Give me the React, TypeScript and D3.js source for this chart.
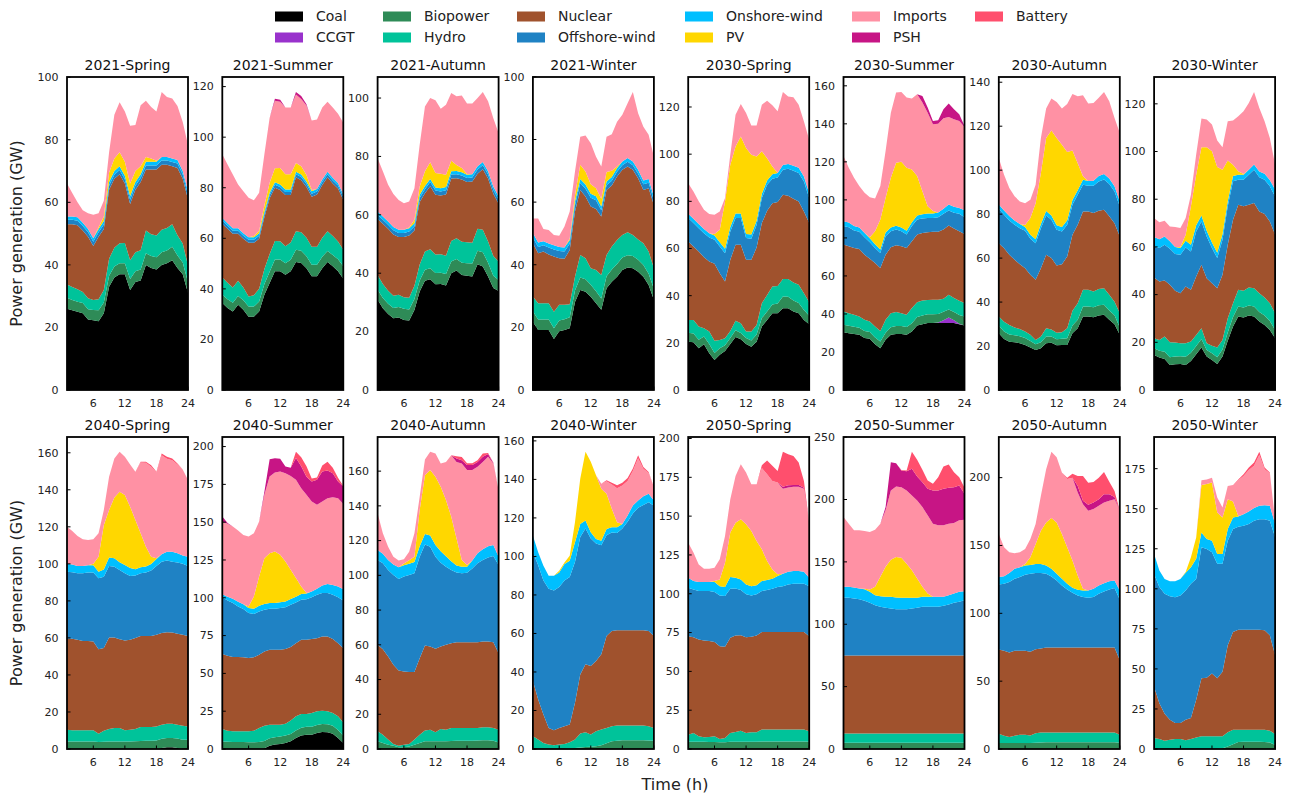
import React from "react";
import * as d3 from "d3";

// Hour of day (x axis)
const HOURS = [1, 2, 3, 4, 5, 6, 7, 8, 9, 10, 11, 12, 13, 14, 15, 16, 17, 18, 19, 20, 21, 22, 23, 24];
const X_TICKS = [6, 12, 18, 24];

// Stack order, bottom to top
const KEYS = ["coal", "ccgt", "bio", "hydro", "nuclear", "offshore", "onshore", "pv", "imports", "psh", "battery"];
const LABELS = ["Coal", "CCGT", "Biopower", "Hydro", "Nuclear", "Offshore-wind", "Onshore-wind", "PV", "Imports", "PSH", "Battery"];
const COLORS = ["#000000", "#9932CC", "#2E8B57", "#00C39A", "#A0522D", "#1F82C4", "#00BFFF", "#FFD700", "#FF91A4", "#C71585", "#FF4F6D"];

const Z = [0, 0, 0, 0, 0, 0, 0, 0, 0, 0, 0, 0, 0, 0, 0, 0, 0, 0, 0, 0, 0, 0, 0, 0];

// Hourly generation by technology (GW)
const gen2021Spring = {
  coal: [26, 25.5, 25, 24.5, 22.5, 22.3, 22, 24.5, 33, 36, 37, 37, 32, 34.5, 35, 40, 39, 38.5, 40, 40.5, 41.5, 39, 37, 31],
  ccgt: Z,
  bio: [3.5, 3.3, 3.2, 3.3, 3.3, 3.3, 3.5, 3.5, 3.5, 3.5, 3.5, 3.5, 3.5, 3.5, 3.5, 3.7, 3.8, 3.9, 4, 4.1, 4.3, 4, 3.8, 3.4],
  hydro: [4.2, 4.1, 4, 3.5, 3.5, 3.2, 3.5, 4, 5.5, 6, 6.4, 6.5, 6, 6, 6.2, 7.3, 7, 7, 7.2, 7.2, 7.2, 6.5, 6, 5.4],
  nuclear: [19.3, 20.1, 20.5, 19.7, 19.7, 17.2, 20, 19.5, 22, 22, 22.1, 19, 18, 20, 21.8, 19.5, 20.7, 21.1, 20.8, 20.2, 18.5, 21.5, 20.7, 21.2],
  offshore: [1.4, 1.4, 1.4, 1.4, 1.4, 1.4, 1.4, 1.4, 1.3, 1.3, 1.3, 1.3, 1.3, 1.3, 1.3, 1.3, 1.3, 1.3, 1.4, 1.4, 1.4, 1.4, 1.4, 1.4],
  onshore: [1.1, 1.1, 1.1, 1.1, 1.1, 1.1, 1.1, 1.1, 1.2, 1.2, 1.2, 1.2, 1.2, 1.2, 1.2, 1.2, 1.2, 1.2, 1.1, 1.1, 1.1, 1.1, 1.1, 1.1],
  pv: [0, 0, 0, 0, 0, 0, 0.5, 1.5, 3, 4, 4.5, 4.5, 4, 3.5, 2.5, 1.5, 1, 0.3, 0, 0, 0, 0, 0, 0],
  imports: [10.5, 7.5, 4.8, 4, 5, 7.5, 4.5, 5, 6.5, 14, 16, 16, 18.5, 14.7, 19.5, 18, 16.5, 15.7, 20.8, 19.2, 19.2, 17.3, 15.7, 14.8],
  psh: Z,
  battery: Z,
};

const gen2021Summer = {
  coal: [34.4, 32.4, 31, 33.7, 31.7, 29, 29, 31, 37.7, 42.3, 47, 47, 45.6, 47, 50.6, 50.2, 48.2, 45, 45, 48.2, 50.6, 48.9, 47, 44],
  ccgt: Z,
  bio: [3.3, 3.5, 3.5, 3.5, 3.8, 4, 4, 4, 4.2, 4.5, 4.6, 4.6, 4.5, 4.5, 4.9, 4.9, 4.7, 4.5, 4.5, 4.5, 4.4, 4.5, 4.7, 4.9],
  hydro: [6.8, 6.5, 6, 6, 5, 4, 4.5, 5, 6, 7, 7.3, 7.2, 6.8, 6.8, 7.3, 7.3, 7.3, 7.2, 7.2, 7.5, 7.8, 7.5, 7, 6.6],
  nuclear: [21.3, 21.4, 21.3, 18.6, 19.3, 21.2, 20.7, 19.8, 20.4, 22, 21.1, 20.3, 20.2, 18.8, 21.3, 20.6, 20.1, 19.7, 20.6, 20.9, 21.3, 20.8, 21, 19.6],
  offshore: [1.2, 1.2, 1.2, 1.2, 1.2, 1.2, 1.2, 1.2, 1.2, 1.2, 1.2, 1.2, 1.2, 1.2, 1.2, 1.2, 1.2, 1.2, 1.2, 1.2, 1.2, 1.2, 1.2, 1.2],
  onshore: [1, 1, 1, 1, 1, 1, 1, 1, 1, 1, 1, 1, 1, 1, 1, 1, 1, 1, 1, 1, 1, 1, 1, 1],
  pv: [0, 0, 0, 0, 0, 0, 0.5, 1, 2.5, 4, 5.5, 6.5, 6, 6, 3.5, 3.3, 2.5, 0.5, 0, 0, 0, 0, 0, 0],
  imports: [25.2, 23.2, 21.2, 17.3, 16.6, 15.6, 14.1, 15, 20.2, 25.7, 26.7, 26.2, 26.4, 26.4, 27.1, 26.6, 27.5, 27.5, 27.5, 28.4, 27.7, 27.8, 27.4, 28.4],
  psh: [0, 0, 0, 0, 0, 0, 0, 0, 0, 0, 0.8, 0.8, 0, 0, 1, 1.2, 0.5, 0, 0, 0, 0, 0, 0, 0],
  battery: Z,
};

const gen2021Autumn = {
  coal: [30.9, 28, 26, 24.6, 24.8, 24, 23.8, 27.4, 33.7, 37.4, 37.9, 36.2, 36.3, 35.8, 40, 40.9, 39.4, 39.1, 38.9, 43.1, 42.3, 38.9, 34.9, 33.9],
  ccgt: Z,
  bio: [3.4, 3.5, 3.5, 3.5, 3.6, 3.8, 3.8, 3.8, 3.8, 3.8, 3.8, 3.9, 3.9, 3.9, 4, 4, 4.2, 4.3, 4.4, 4.6, 4.9, 4.7, 4.2, 3.8],
  hydro: [5.1, 4.8, 4.5, 4.2, 4.2, 4, 4, 4.5, 5.5, 6.2, 6.5, 6.3, 6.3, 6.3, 7, 7.1, 7.2, 7.2, 7.1, 7.5, 7.7, 7.3, 6.8, 6.3],
  nuclear: [19.2, 20.6, 21.2, 21, 19.8, 20.6, 21.3, 18.9, 21.4, 20, 21.6, 20.5, 20.1, 21, 21.4, 20.5, 21.3, 20.6, 21, 18.9, 20.7, 21.5, 21.3, 19.8],
  offshore: [1.4, 1.4, 1.4, 1.4, 1.4, 1.4, 1.4, 1.4, 1.4, 1.4, 1.4, 1.4, 1.4, 1.4, 1.4, 1.4, 1.4, 1.4, 1.4, 1.4, 1.4, 1.4, 1.4, 1.4],
  onshore: [1.1, 1.1, 1.1, 1.1, 1.1, 1.1, 1.1, 1.1, 1.1, 1.1, 1.1, 1.1, 1.1, 1.1, 1.1, 1.1, 1.1, 1.1, 1.1, 1.1, 1.1, 1.1, 1.1, 1.1],
  pv: [0, 0, 0, 0, 0, 0, 0.3, 1.2, 2.8, 5, 5.7, 4.9, 5, 4.2, 3.6, 2.1, 1.4, 0.3, 0, 0, 0, 0, 0, 0],
  imports: [18.3, 15.5, 12.6, 11.3, 10.2, 9.1, 8.9, 10.8, 14.3, 22.2, 22, 24.9, 22.2, 24, 23.2, 23.5, 24.9, 24.1, 24.2, 23.4, 24, 24, 23.4, 21.7],
  psh: Z,
  battery: Z,
};

const gen2021Winter = {
  coal: [21.8, 19.2, 19.2, 19.2, 16.3, 18.8, 19.2, 19.7, 28.1, 31.9, 31.4, 29.8, 27.7, 25.6, 32.5, 34.6, 36.2, 38.3, 39.1, 38.9, 37.8, 36.2, 33.5, 28.8],
  ccgt: Z,
  bio: [3.3, 3.3, 3.3, 3.3, 3.4, 3.4, 3.4, 3.5, 3.7, 4, 4, 3.8, 3.8, 3.6, 3.8, 3.9, 4, 4, 3.9, 3.9, 3.8, 3.7, 3.6, 3.5],
  hydro: [4.7, 5.2, 5.2, 5.2, 5.3, 5, 4.6, 4.2, 4.4, 7.2, 6.7, 5.3, 6.8, 7.5, 6.8, 7.3, 7.7, 7.2, 7.4, 6.7, 6.5, 7, 7.1, 6.6],
  nuclear: [17.1, 16, 16.5, 15.6, 17.6, 14.9, 14.7, 17.3, 20.8, 20.8, 19.7, 19.7, 19.5, 18.7, 20.8, 19.5, 20.3, 20.8, 21, 20.8, 19.5, 17, 20.2, 20.2],
  offshore: [1.8, 2, 2, 2.2, 2.3, 2.3, 2.3, 2, 2, 2.2, 2.5, 2.8, 2.8, 2, 1.5, 1.5, 1.5, 1.5, 1.5, 1.5, 1.5, 1.8, 1.8, 1.5],
  onshore: [1.4, 1.4, 1.3, 1.3, 1.3, 1.3, 1.3, 1.2, 1.2, 1.3, 1.3, 1.3, 1.3, 1.2, 1.2, 1.2, 1.2, 1.2, 1.2, 1.2, 1.2, 1.2, 1.2, 1.2],
  pv: [0, 0, 0, 0, 0, 0, 0, 0.5, 2, 4.5, 4.2, 3, 2.5, 2.5, 3, 2, 0.5, 0, 0, 0, 0, 0, 0, 0],
  imports: [4.7, 7.7, 3.9, 4.3, 3.3, 3.6, 6.7, 8.6, 7.6, 9, 11.5, 13.1, 10.1, 10.3, 11.3, 11.7, 14.3, 14.9, 17.5, 22.2, 18.1, 17.2, 14.1, 12.7],
  psh: Z,
  battery: Z,
};

const gen2030Spring = {
  coal: [20.5, 20.2, 17.7, 19.4, 15.6, 12.7, 14.9, 16.5, 19.5, 22.5, 21.5, 19.5, 18.3, 20.5, 26.9, 29.7, 32.5, 32.5, 34.7, 34.7, 33.3, 32.5, 29.7, 27.9],
  ccgt: Z,
  bio: [3.8, 3.8, 3.6, 3.3, 3.9, 3, 2.8, 2.5, 2.5, 2.8, 2.7, 2.6, 2.7, 3, 3.6, 3.6, 3.8, 4.2, 4.9, 4.8, 4.6, 4.4, 4.2, 3.6],
  hydro: [5.4, 5.7, 5.6, 3.5, 5.3, 5.2, 3.5, 2.9, 3, 4.1, 4.1, 2.7, 3.8, 4.1, 6.3, 7, 7.6, 7.4, 7.5, 7.6, 7.7, 7.7, 7.1, 5.7],
  nuclear: [33.3, 31.1, 31.8, 30.1, 29.7, 32.6, 28.3, 24.1, 30.2, 32.2, 33.3, 30.4, 30.4, 32.8, 34, 35.7, 35.3, 35.6, 35.7, 35.3, 35.5, 35.3, 34.7, 33.6],
  offshore: [9.9, 10, 9.9, 10.2, 10.2, 10.2, 11.3, 12, 12, 11.3, 11.3, 9.2, 8.9, 9.6, 10.6, 11, 10.4, 10.4, 10.6, 11.4, 11.9, 12.1, 12.7, 10.6],
  onshore: [1.8, 1.8, 1.8, 1.8, 1.8, 1.8, 1.9, 1.9, 1.9, 1.9, 1.9, 1.8, 1.8, 1.8, 1.8, 1.8, 1.9, 1.9, 2, 2, 2.1, 2.2, 2.1, 2],
  pv: [0, 0, 0, 0, 0, 0.6, 5.2, 20, 26.4, 28.5, 32.7, 36.4, 33.9, 27.2, 18, 9.5, 3.3, 0, 0, 0, 0, 0, 0, 0],
  imports: [13, 11.6, 9.6, 8.1, 8.1, 8.2, 7.8, 1.5, 4.3, 13.4, 13.8, 14.9, 12.4, 13.2, 19.8, 24.4, 25.9, 26.2, 31, 28.7, 29, 26.8, 23.4, 22.7],
  psh: Z,
  battery: Z,
};

const gen2030Summer = {
  coal: [30.4, 29.9, 29.4, 29, 27.3, 26.9, 24.1, 22, 26.4, 29, 29.5, 29.5, 29, 30.8, 33.9, 34.6, 35.2, 35.2, 35.2, 35.2, 35.2, 35.2, 34.6, 33.9],
  ccgt: [0, 0, 0, 0, 0, 0, 0, 0, 0, 0, 0, 0, 0, 0, 0, 0, 0, 0, 0.3, 1.5, 3, 1.5, 0.3, 0],
  bio: [3.9, 3.9, 3.9, 3.8, 3.7, 3.6, 3.5, 3.5, 3.7, 4, 4.1, 4.1, 4.1, 4.3, 4.5, 4.6, 4.7, 4.7, 4.5, 4.4, 4.2, 4.3, 4.6, 4.8],
  hydro: [7, 6.6, 6.3, 5.9, 5.9, 5.5, 5.8, 5.6, 6.8, 7.4, 7.4, 6.8, 6.5, 8, 7.8, 7.9, 7.4, 7.6, 7.5, 6.9, 7.7, 7.4, 7.4, 7],
  nuclear: [35.2, 35.2, 35.1, 35.5, 34.3, 33.1, 33.4, 33.1, 34.3, 34.7, 35.1, 35.2, 35.1, 35.1, 35.6, 35.5, 35.7, 35.7, 35.7, 36.4, 36.4, 36.5, 36.6, 36.4],
  offshore: [9.7, 10, 9.2, 9, 9.2, 8.6, 7.9, 7.9, 9.7, 8.4, 8.3, 7.9, 7.1, 8, 7.9, 7.6, 7.5, 7.3, 7.7, 8.3, 7.9, 8.3, 9.2, 8.8],
  onshore: [2.6, 2.5, 2.4, 2.3, 2.2, 2.1, 2, 1.8, 2, 2, 2, 2, 2, 2.1, 2.1, 2.2, 2.3, 2.4, 2.5, 2.7, 3.2, 3.2, 3, 3.6],
  pv: [0, 0, 0, 0, 0, 0.5, 6.8, 15.8, 18.2, 26.1, 33.2, 34.6, 33.1, 27.7, 20.7, 12.2, 3.9, 1.2, 0, 0, 0, 0, 0, 0],
  imports: [34.3, 28.8, 25.3, 21.8, 21.1, 21.1, 17.2, 17.6, 24.6, 34.3, 36.9, 36.7, 36.9, 37.3, 43.1, 46.6, 49.2, 45.7, 46.7, 47.6, 46, 46, 45.8, 43.9],
  psh: [0, 0, 0, 0, 0, 0, 0, 0, 0, 0, 0, 0, 0, 0, 0, 3.5, 2.7, 1.7, 1.8, 4.7, 7.1, 5.3, 3.6, 0.5],
  battery: Z,
};

const gen2030Autumn = {
  coal: [25.8, 23.2, 22, 21.7, 21.3, 20.5, 19.3, 18.2, 19, 21.3, 21.5, 20.3, 20.5, 20.5, 25.8, 28.1, 33.4, 33.4, 33.1, 33.9, 34.2, 31.9, 29.9, 25.1],
  ccgt: Z,
  bio: [3.5, 3.4, 3.3, 3.2, 3.2, 3.1, 3, 2.6, 2.7, 3, 2.8, 2.8, 2.8, 3, 3.5, 3.8, 4.6, 4.6, 4.5, 4.6, 4.6, 4.3, 4.1, 3.3],
  hydro: [4.1, 4.5, 4.3, 3.5, 3.3, 3, 2.8, 2, 2.6, 3.8, 3.2, 2.9, 3, 4.6, 6.7, 7.6, 7.6, 7.6, 7.2, 7.5, 7.5, 7.1, 6.2, 6.5],
  nuclear: [33.4, 33.4, 31.9, 30.8, 29.4, 28.8, 27.3, 27.3, 31.1, 33.4, 32.5, 30.6, 30.9, 32.6, 34.6, 35.7, 35.6, 35.6, 35.7, 35.5, 35.7, 35.7, 35.7, 34.9],
  offshore: [15.6, 15.2, 15.6, 16, 16.4, 17, 16.4, 16.7, 18.2, 17.9, 17.4, 16.3, 14.9, 14.5, 13.7, 13.6, 12.2, 11.7, 12.4, 13.4, 13.7, 14.7, 14.4, 13.7],
  onshore: [2, 2, 2, 1.9, 1.9, 1.8, 1.8, 1.8, 1.9, 2, 2, 2, 2, 2, 2.1, 2.1, 2.2, 2.2, 2.3, 2.4, 2.5, 2.5, 2.4, 2.2],
  pv: [0, 0, 0, 0, 0, 0.8, 7.6, 16.4, 23.2, 33.2, 38.6, 39.7, 37.5, 31.1, 22.5, 12.3, 1.6, 0, 0, 0, 0, 0, 0, 0],
  imports: [21.1, 16.2, 12.8, 11, 10.3, 10, 8.3, 8.4, 15.9, 13.4, 14.6, 16.4, 16.4, 21.8, 25.8, 30.4, 36.9, 35.2, 35.4, 35.6, 37.4, 35.1, 31, 31.2],
  psh: Z,
  battery: Z,
};

const gen2030Winter = {
  coal: [14.7, 13.6, 13, 10.5, 10.8, 10.9, 10.5, 12.2, 15, 17.8, 14, 12.6, 10.9, 14, 20.6, 26.6, 30.8, 30.4, 31.2, 30.8, 28.7, 27.3, 25.2, 21.7],
  ccgt: Z,
  bio: [2.8, 2.9, 3, 3.2, 3.2, 3.3, 3.4, 3.4, 3.5, 3.6, 2.8, 2.8, 2.8, 3, 3.5, 4, 4.2, 4.2, 4.2, 4.2, 4, 3.9, 3.7, 3.5],
  hydro: [4.2, 4.5, 6.4, 6.3, 5.9, 5.4, 5.7, 4.7, 4.6, 4.5, 2.8, 3.2, 4.1, 4, 6, 5.8, 7, 7, 7.6, 7.7, 7.9, 7.6, 7.5, 7],
  nuclear: [25.5, 24.5, 23.5, 24.1, 21.7, 21, 23.8, 21.7, 24.5, 26.6, 27.3, 26.2, 24.9, 27.3, 30.8, 35, 35.7, 35.4, 34.7, 35.7, 34.3, 35, 34.3, 32.9],
  offshore: [13, 14, 15, 15.1, 15.4, 16.1, 16.4, 16.1, 18.9, 18.2, 17.5, 14.7, 12.6, 14.7, 16.1, 16.1, 10.5, 11.2, 12.6, 14, 14.3, 14.4, 14.7, 16.1],
  onshore: [4, 3.7, 3.5, 3.2, 3, 2.8, 2.8, 2.8, 2.6, 2.5, 2.4, 2.4, 2.3, 2.3, 2.2, 2.2, 2.1, 2.1, 2.1, 2.2, 2.4, 2.5, 2.7, 2.8],
  pv: [0, 0, 0, 0, 0, 0.5, 2.5, 16.1, 21.2, 28.6, 35, 38.2, 35.9, 27.1, 17, 4.8, 1.4, 0.3, 0, 0, 0, 0, 0, 0],
  imports: [7.9, 7.1, 6.6, 6.2, 8.3, 7.9, 7, 4.9, 8.4, 12, 11.6, 11.2, 11.1, 9.4, 16.5, 18.5, 23.1, 26.3, 28, 30.4, 26.7, 22, 17.6, 10.5],
  psh: Z,
  battery: Z,
};

const gen2040Spring = {
  coal: [0, 0, 0, 0, 0, 0, 0, 0, 0, 0, 0, 0, 0, 0, 0, 0, 0, 0, 0.5, 1, 1, 0.5, 0, 0],
  ccgt: Z,
  bio: [4.1, 4, 4, 4, 4, 4, 3.8, 3.9, 4, 4, 4, 4, 4, 4.2, 4.3, 4.4, 4.5, 4.6, 5, 5, 5, 5.2, 5, 5],
  hydro: [6.3, 6.1, 6.1, 6.1, 6.1, 6.1, 4.5, 6, 6.8, 7.3, 7.3, 6.1, 6.4, 6.6, 7.6, 7.5, 7.4, 7.6, 7.6, 7.7, 7.7, 7.4, 7.6, 7.2],
  nuclear: [49.1, 49.4, 48.9, 48.3, 48.3, 48, 45.6, 44.6, 49.4, 48.9, 48, 48.5, 48.6, 49.1, 49.2, 49.2, 49.2, 49.5, 49.5, 49.4, 49.2, 49.1, 49.1, 48.9],
  offshore: [36.3, 36, 35.9, 36.5, 36.9, 37.2, 38.3, 38.6, 38.7, 38.3, 37.4, 36.3, 34.5, 33.8, 33.8, 34.2, 35.3, 37.2, 38.6, 38.7, 38.3, 38.5, 38.3, 37.8],
  onshore: [4.2, 4.2, 4, 4, 4, 4, 3.6, 3.8, 4.6, 4.5, 4.2, 4.5, 4.3, 3.4, 3.3, 3.3, 3.5, 3.7, 4, 4.8, 5.4, 5, 4.5, 5],
  pv: [0, 0, 0, 0, 0, 0.7, 8.1, 24.1, 25.6, 32.9, 38.1, 37.8, 33.1, 26.6, 18.3, 10.7, 4, 0.5, 0, 0, 0, 0, 0, 0],
  imports: [20.1, 18.1, 16.2, 14.4, 13.6, 13.3, 12.6, 8.1, 18, 21, 21.5, 20.6, 22.8, 26.1, 38.3, 45.3, 48.6, 46.2, 53.5, 50.2, 49.3, 48, 46.5, 41.4],
  psh: Z,
  battery: [0, 0, 0, 0, 0, 0, 0, 0, 0, 0, 0, 0, 0, 0, 0.4, 0.6, 0.8, 0.5, 0.9, 1, 1, 0.5, 0, 0],
};

const gen2040Summer = {
  coal: [0, 0, 0, 0, 0, 0, 0, 0, 0.5, 2.2, 2.9, 3.3, 4, 5.1, 7.3, 9, 9.5, 9.5, 10.6, 11.2, 11, 10.1, 7.3, 4],
  ccgt: Z,
  bio: [5, 4.8, 4.7, 4.6, 4.6, 4.5, 4.5, 4.6, 4.8, 4.9, 4.9, 4.9, 4.9, 4.9, 5, 5.1, 5.2, 5.2, 5.2, 5.3, 5.4, 5.3, 5.2, 4.8],
  hydro: [8.2, 7.3, 7, 7.1, 7.1, 7.2, 7.6, 9.3, 10.1, 9, 8.3, 7.9, 7.8, 8.9, 9.3, 9, 8.4, 9.1, 9.1, 8.8, 8.5, 8.4, 9.1, 8.8],
  nuclear: [49.6, 49.6, 49.1, 49.1, 48.9, 48.4, 48.5, 48.4, 49.1, 49.5, 49.5, 49.5, 49.4, 48.5, 48.4, 49.1, 49.1, 48.9, 48.4, 49.1, 49.5, 48.9, 48.4, 49.1],
  offshore: [37.6, 36.5, 35.7, 33.5, 31.9, 29.8, 28.6, 28.7, 27.6, 27.1, 27.1, 27.6, 27.7, 28, 26.9, 26.5, 26.9, 27.7, 28.7, 28.7, 28.7, 29.3, 30.4, 31.5],
  onshore: [2, 2.5, 2.8, 3, 3.2, 3.3, 3.5, 3.7, 3.8, 3.8, 3.8, 3.8, 3.8, 3.8, 3.8, 3.8, 3.8, 3.8, 4, 5, 6, 6.5, 7, 7.5],
  pv: [0, 0, 0, 0, 0, 1.1, 8.2, 19.4, 30.3, 33, 34.1, 31.4, 26.4, 19.3, 12.3, 5, 0.2, 0, 0, 0, 0, 0, 0, 0],
  imports: [48, 48.2, 47.8, 47.2, 45.9, 46.2, 41.8, 36.3, 41.9, 50.7, 52.2, 55.1, 58.4, 62.1, 65, 65, 65, 59.5, 55.5, 55.6, 56.8, 58, 58.5, 56.4],
  psh: [3.3, 0.5, 0, 0, 0, 0, 0, 0, 2, 11.4, 9.5, 8.5, 4.4, 5.4, 14.5, 14.5, 11.9, 13.2, 16.5, 19.8, 18.2, 15.9, 11, 11.5],
  battery: [0, 0, 0, 0, 0, 0, 0, 0, 0, 0, 0, 0, 0, 0, 4, 6, 7, 2, 1.5, 4, 5.9, 3.6, 2.5, 0.4],
};

const gen2040Autumn = {
  coal: Z,
  ccgt: Z,
  bio: [4.4, 3.5, 2.5, 1.8, 1, 1, 1.5, 2.5, 3.5, 4.4, 4.4, 4.4, 4.4, 4.5, 4.6, 4.7, 4.8, 4.8, 4.8, 4.9, 5, 5, 4.8, 3.8],
  hydro: [5.8, 4.7, 2.9, 1.1, 0.9, 1.5, 1.4, 2.9, 4.7, 6.3, 6.7, 5.2, 7.1, 6.6, 7.5, 7.4, 7.3, 7.3, 7.3, 7.2, 7.5, 7.5, 7.3, 7.3],
  nuclear: [49.8, 49.3, 47.9, 45.6, 43.3, 42.1, 41.4, 38.9, 44.1, 48.9, 47.9, 48.1, 47.5, 48.9, 48.8, 49.4, 49.4, 49.4, 49.4, 49.4, 49.4, 49.4, 49.4, 44.1],
  offshore: [48.8, 49.4, 49.8, 51.7, 52.7, 54.7, 55.9, 56.9, 58.4, 58.2, 57.5, 53, 48.3, 45, 42.2, 40.2, 39.7, 40, 42.5, 45.4, 46.9, 48.3, 49.6, 50.8],
  onshore: [5.8, 5.5, 5.7, 6, 6.7, 6.5, 6.5, 6.5, 6, 6, 6.5, 6.8, 6.5, 6, 5, 4, 3.8, 3.5, 4.5, 5.8, 6.2, 6.5, 6.4, 4.7],
  pv: [0, 0, 0, 0, 0, 1, 2, 3, 20.9, 33.9, 37.6, 39.3, 37.2, 32.4, 25.6, 15.6, 3.8, 1, 0, 0, 0, 0, 0, 0],
  imports: [21.1, 11.8, 7.7, 4.5, 3.9, 2.4, 4.9, 13.5, 7.6, 9, 10.5, 13.3, 13.4, 21.9, 35.5, 44, 55.6, 54.6, 52.1, 49.8, 50.3, 51.6, 46.9, 38.4],
  psh: [0, 0, 0, 0, 0, 0, 0, 0, 0, 0, 0, 0, 0, 0, 0, 2, 1.9, 2.9, 2.9, 2.8, 3, 1.5, 0.3, 0],
  battery: [0, 0, 0, 0, 0, 0, 0, 0, 0, 0, 0, 0, 0, 0, 0, 1.3, 1.9, 1.1, 1.1, 1, 1.8, 0.7, 0.2, 0],
};

const gen2040Winter = {
  coal: Z,
  ccgt: Z,
  bio: [0, 0, 0, 0, 0, 0, 0, 0.3, 0.5, 0.8, 1, 1.2, 1.4, 2, 3, 4, 4.3, 4.5, 4.5, 4.5, 4.5, 4.5, 4.4, 4.3],
  hydro: [6.6, 4.9, 3.1, 2.3, 1.9, 2.3, 2.6, 3.2, 4.4, 7.2, 7.7, 6.3, 7.8, 8.1, 7.9, 7.8, 7.9, 7.7, 7.7, 7.7, 7.7, 7.7, 7.4, 6.6],
  nuclear: [28.7, 20.8, 14.8, 8.6, 7.8, 8.6, 9.2, 9.2, 19.1, 30.7, 35.3, 35.6, 36.5, 39.1, 47.8, 49.5, 49.5, 49.5, 49.5, 49.5, 49.5, 49.5, 49.5, 47.8],
  offshore: [67, 69.7, 69.6, 72.3, 72.6, 73.2, 75.7, 76.6, 73.1, 71.4, 70.5, 66.2, 61, 56.6, 52.3, 51.1, 50.5, 52.8, 56.3, 60.6, 63.6, 65, 66.8, 67.6],
  onshore: [8.5, 6.8, 7.7, 6.8, 7.7, 7.6, 8.6, 8.5, 10.3, 6.8, 4.2, 3.3, 2.4, 2.4, 3.3, 2.8, 3, 2.4, 3.3, 4.2, 3.8, 4.6, 4.5, 2.8],
  pv: [0, 0, 0, 0, 0, 0.8, 0.8, 2.6, 10.4, 23.5, 35.6, 36.5, 33, 27, 18.3, 9.5, 2.6, 0, 0, 0, 0, 0, 0, 0],
  imports: [0, 0, 0, 0, 0, 0, 0, 0, 0, 0, 0, 0, 0, 2.6, 6.4, 12.6, 17.6, 19.9, 17.9, 17.9, 21.9, 14.2, 10.7, 6.9],
  psh: Z,
  battery: [0, 0, 0, 0, 0, 0, 0, 0, 0, 0, 0, 0, 0, 0, 0.5, 1, 1.5, 1.5, 1.5, 1.2, 1.5, 1, 0.5, 0],
};

const gen2050Spring = {
  coal: Z,
  ccgt: Z,
  bio: [4.7, 4.7, 4.6, 4.6, 4.5, 4.5, 4.4, 4.4, 4.6, 4.7, 4.7, 4.7, 4.7, 4.7, 4.8, 4.8, 4.8, 4.8, 4.8, 4.8, 4.8, 4.8, 4.8, 4.7],
  hydro: [4.5, 5.6, 3.6, 2.9, 3.2, 3.7, 2.1, 2.7, 5.7, 6.3, 7.1, 5.6, 6.1, 6.1, 7.7, 7.7, 7.7, 7.7, 7.7, 7.7, 7.7, 7.7, 7.7, 6.7],
  nuclear: [63.5, 61.7, 62.3, 62.4, 61.8, 60.8, 59.7, 58.7, 61.3, 62.1, 61.5, 61.7, 61.5, 62.3, 62.8, 62.8, 62.8, 62.8, 62.8, 62.8, 62.8, 62.8, 62.8, 61.3],
  offshore: [31.2, 30.8, 31.2, 31.8, 32.2, 32.1, 32.7, 32.7, 31.6, 30.3, 29.1, 27.6, 26.6, 26.5, 26.4, 27.1, 27.9, 29, 29.6, 30.7, 31.2, 31.2, 31.2, 32.2],
  onshore: [6.4, 5.4, 5.8, 5.8, 5.8, 6.4, 6, 5.8, 7.6, 6.9, 6.8, 6.4, 6, 5.8, 6.5, 6.4, 6.5, 7.1, 8, 8.2, 8.1, 8.1, 7.7, 5.4],
  pv: [0, 0, 0, 0, 0, 0.7, 4.3, 15.7, 28.6, 35.5, 38.8, 38.7, 35.5, 28.6, 20.4, 12.3, 6, 1.1, 0, 0, 0, 0, 0, 0],
  imports: [22.6, 18.3, 11.4, 8.6, 8.6, 8.6, 13, 17.2, 21.5, 30.1, 35.4, 33.4, 30.1, 36.5, 52.4, 55.9, 57, 59.1, 54.8, 54.2, 54.4, 54.4, 53.5, 35.5],
  psh: [0, 0, 0, 0, 0, 0, 0, 0, 0, 0, 0, 0, 0, 0, 0, 0, 0, 0, 1.3, 1.5, 1.1, 1, 0.5, 0],
  battery: [0, 0, 0, 0, 0, 0, 0, 0, 0, 0, 0, 0, 0, 0, 1.8, 8.8, 9.7, 7.5, 22.4, 20, 18.7, 14.5, 4.5, 0],
};

const gen2050Summer = {
  coal: Z,
  ccgt: Z,
  bio: [5, 5, 5, 5, 5, 5, 5, 5, 5, 5, 5, 5, 5, 5, 5, 5, 5, 5, 5, 5, 5, 5, 5, 5],
  hydro: [7.4, 7.4, 7.4, 7.4, 7.4, 7.4, 7.4, 7.4, 7.4, 7.4, 7.4, 7.4, 7.4, 7.4, 7.4, 7.4, 7.4, 7.4, 7.4, 7.4, 7.4, 7.4, 7.4, 7.4],
  nuclear: [62.5, 62.5, 62.5, 62.5, 62.5, 62.5, 62.5, 62.5, 62.5, 62.5, 62.5, 62.5, 62.5, 62.5, 62.5, 62.5, 62.5, 62.5, 62.5, 62.5, 62.5, 62.5, 62.5, 62.5],
  offshore: [46.5, 46.3, 45.7, 45.2, 43.9, 42.3, 40.4, 39.1, 38.3, 37.7, 37.2, 37.2, 37.2, 37.7, 38.3, 39.1, 39.1, 39.1, 39.1, 39.9, 40.9, 42.3, 43.1, 44.4],
  onshore: [8.6, 8.8, 8.8, 8.5, 9.3, 8.8, 8, 8.5, 8.8, 9.4, 9.3, 9.1, 9.1, 8.6, 8, 8, 8, 8, 8, 7.2, 7.5, 7.4, 8, 7.2],
  pv: [0, 0, 0, 0, 0.3, 1.8, 6.7, 15.5, 24, 29.8, 32.6, 32.2, 27.4, 22.1, 15.4, 8, 2.6, 0, 0, 0, 0, 0, 0, 0],
  imports: [55.9, 50.6, 45.9, 46.7, 46.3, 46.1, 45.8, 42.6, 45.3, 55.5, 56.5, 56.5, 58.7, 60, 62.7, 63.9, 62.7, 58.6, 57.3, 57.3, 57.3, 56.5, 57.3, 57.3],
  psh: [0, 0, 0, 0, 0, 0, 0, 0, 2.6, 22.6, 18.6, 13.3, 15.4, 21.3, 19.2, 20, 21.3, 26.7, 28, 29.3, 28.8, 28.8, 27.9, 20.8],
  battery: [0, 0, 0, 0, 0, 0, 0, 0, 0, 0, 0, 0.5, 0.5, 13.6, 13.3, 9.9, 6.7, 5.3, 10.6, 17.8, 18.6, 12, 6.7, 4.8],
};

const gen2050Autumn = {
  coal: Z,
  ccgt: Z,
  bio: [4.4, 4.4, 4.4, 4.4, 4.4, 4.4, 4.4, 4.6, 4.8, 4.9, 5, 5, 5, 5, 5, 5, 5, 5, 5, 5, 5, 5, 5, 4.6],
  hydro: [6.8, 5.4, 4.4, 5.4, 6.1, 6.1, 5.6, 7.1, 7.4, 7.3, 7.2, 7.2, 7.2, 7.2, 7.2, 7.2, 7.2, 7.2, 7.2, 7.2, 7.2, 7.2, 7.2, 5.9],
  nuclear: [62.1, 62.6, 62.3, 62.6, 61.9, 61.9, 61.6, 61.9, 61.9, 62.6, 62.6, 62.6, 62.6, 62.6, 62.6, 62.6, 62.6, 62.6, 62.6, 62.6, 62.6, 62.6, 62.6, 55],
  offshore: [48, 49.4, 51.9, 53, 54.3, 56, 57.5, 56.2, 55.7, 54.3, 52.3, 49.4, 45.7, 42.8, 40.4, 38.4, 37.2, 36.7, 37.2, 39.6, 41.3, 42.8, 43.8, 44.5],
  onshore: [5.4, 5.6, 6.8, 7.4, 7.3, 6.8, 6.6, 6.6, 6.6, 6.1, 5.7, 4.9, 4.9, 4.2, 3.6, 4.2, 4.9, 5.4, 6.1, 6.1, 6.1, 6.1, 5.6, 6.9],
  pv: [0, 0, 0, 0, 0, 1.2, 5.6, 14.7, 24.5, 31.8, 37.4, 37.9, 33, 26.9, 20.1, 10.5, 1.2, 0, 0, 0, 0, 0, 0, 0],
  imports: [31.7, 21.3, 15.2, 11.5, 11, 11, 13.5, 14.7, 25.7, 39.1, 48.8, 48, 45.3, 50.3, 61.1, 61.1, 62.3, 58.7, 58.7, 58.7, 59.5, 59.2, 59.9, 58.7],
  psh: [0, 0, 0, 0, 0, 0, 0, 0, 0, 0, 0, 0, 0, 0, 0, 4.9, 2.5, 4.4, 4.9, 4.9, 6.1, 4.9, 1.7, 0],
  battery: [0, 0, 0, 0, 0, 0, 0, 0, 0, 0, 0, 0, 0, 1, 2.9, 7.3, 18.3, 16.3, 15.1, 15.9, 16.4, 9.2, 4.4, 0],
};

const gen2050Winter = {
  coal: Z,
  ccgt: Z,
  bio: [0, 0, 0, 0, 0, 0, 0, 0, 0, 0, 0, 0, 0, 0.5, 1.5, 3, 4.3, 4.5, 4.5, 4.5, 4.5, 4.3, 4, 2.7],
  hydro: [6.8, 6.2, 5.2, 5.8, 6.2, 6.2, 5.4, 6.2, 7.2, 7.9, 7.9, 7.9, 7.9, 7.4, 8.9, 9, 7.7, 7.5, 7.5, 7.5, 7.5, 7.7, 7.4, 6.6],
  nuclear: [32.1, 22.4, 16.8, 12.4, 10, 10, 12.8, 13.1, 23.5, 36.2, 36.6, 39.3, 36.2, 40.3, 54.4, 61.1, 62.5, 62.5, 62.5, 62.5, 62.5, 62.1, 59.6, 49.3],
  offshore: [70.4, 72.5, 74.9, 77.1, 78.6, 79.7, 80.8, 83.8, 75.5, 81.8, 80.4, 75.6, 71.5, 67.4, 65.2, 64.2, 64.2, 64.9, 65.9, 68, 69, 69.4, 71.5, 73.5],
  onshore: [12.5, 10.3, 9.3, 9.5, 10, 10.3, 11, 10.4, 12.5, 9.3, 6.2, 7.2, 6.2, 6.2, 7.3, 7.2, 6.5, 7.2, 7.9, 7.9, 8.3, 8.7, 9.3, 8.4],
  pv: [0, 0, 0, 0, 0, 0, 0.5, 6.2, 13.4, 29.6, 34.4, 36.3, 25.8, 22.7, 18.6, 10, 0.3, 0, 0, 0, 0, 0, 0, 0],
  imports: [0, 0, 0, 0, 0, 0, 0, 0, 0, 2.9, 2.8, 3.1, 9.4, 6.3, 8.3, 10.3, 22.3, 23.9, 25.9, 26.5, 31.7, 22.5, 20.3, 2],
  psh: Z,
  battery: [0, 0, 0, 0, 0, 0, 0, 0, 0, 0, 0, 0, 0, 0, 0, 0, 0.5, 1, 1.5, 2, 2, 1, 0.5, 0],
};

const PANEL_TITLES = [
  "2021-Spring", "2021-Summer", "2021-Autumn", "2021-Winter",
  "2030-Spring", "2030-Summer", "2030-Autumn", "2030-Winter",
  "2040-Spring", "2040-Summer", "2040-Autumn", "2040-Winter",
  "2050-Spring", "2050-Summer", "2050-Autumn", "2050-Winter",
];
const PANEL_DATA = [
  gen2021Spring, gen2021Summer, gen2021Autumn, gen2021Winter,
  gen2030Spring, gen2030Summer, gen2030Autumn, gen2030Winter,
  gen2040Spring, gen2040Summer, gen2040Autumn, gen2040Winter,
  gen2050Spring, gen2050Summer, gen2050Autumn, gen2050Winter,
];
// y tick spacing per panel (GW)
const PANEL_TICK_STEP = [20, 20, 20, 20, 20, 20, 20, 20, 20, 25, 20, 20, 25, 50, 50, 25];

const FONT = "DejaVu Sans, Verdana, sans-serif";
const WIDTH = 1293;
const HEIGHT = 796;
const PANEL_W = 121;
const PANEL_PITCH = 155.3;
const FIRST_LEFT = 67;
const ROWS = [
  { top: 77, bottom: 390 },
  { top: 437, bottom: 749 },
];
const LEGEND_COLS = [275, 383, 517, 685, 852, 975];
const LEGEND_ROWS = [16.5, 37.5];

function Panel({ index }: { index: number }) {
  const gen: any = PANEL_DATA[index];
  const col = index % 8;
  const row = ROWS[Math.floor(index / 8)];
  const left = FIRST_LEFT + col * PANEL_PITCH;
  const right = left + PANEL_W;

  const records = HOURS.map((h, i) => {
    const r: any = { hour: h };
    KEYS.forEach((k) => (r[k] = gen[k][i]));
    return r;
  });
  const series = d3.stack<any>().keys(KEYS)(records);
  const maxTotal = d3.max(records, (r: any) => d3.sum(KEYS, (k) => r[k])) as number;
  // 5% headroom above the tallest stack
  const yTop = maxTotal * 1.05;

  const x = d3.scaleLinear().domain([1, 24]).range([left, right]);
  const y = d3.scaleLinear().domain([0, yTop]).range([row.bottom, row.top]);
  const area = d3
    .area<any>()
    .x((d) => x(d.data.hour))
    .y0((d) => y(d[0]))
    .y1((d) => y(d[1]))
    .curve(d3.curveLinear);

  const step = PANEL_TICK_STEP[index];
  const yTicks = d3.range(0, yTop + 0.15, step);
  const clipId = `clip-${index}`;

  return (
    <g>
      <defs>
        <clipPath id={clipId}>
          <rect x={left} y={row.top - 1} width={PANEL_W} height={row.bottom - row.top + 1} />
        </clipPath>
      </defs>
      <g clipPath={`url(#${clipId})`}>
        {series.map((s, i) => (
          <path key={KEYS[i]} d={area(s as any) || ""} fill={COLORS[i]} stroke="none" />
        ))}
      </g>
      {yTicks.map((t) => (
        <g key={`y${t}`}>
          <line x1={left} x2={left + 3.5} y1={y(t)} y2={y(t)} stroke="#000" strokeWidth={1} />
          <text x={left - 8.5} y={y(t)} dy="0.35em" textAnchor="end" fontSize={11} fontFamily={FONT} fill="#222">
            {t}
          </text>
        </g>
      ))}
      {X_TICKS.map((t) => (
        <g key={`x${t}`}>
          <line x1={x(t)} x2={x(t)} y1={row.bottom} y2={row.bottom - 3.5} stroke="#000" strokeWidth={1} />
          <text x={x(t)} y={row.bottom + 17} textAnchor="middle" fontSize={11} fontFamily={FONT} fill="#222">
            {t}
          </text>
        </g>
      ))}
      <rect x={left} y={row.top} width={PANEL_W} height={row.bottom - row.top} fill="none" stroke="#000" strokeWidth={1.8} />
      <text x={left + PANEL_W / 2} y={row.top - 7} textAnchor="middle" fontSize={14} fontFamily={FONT} fill="#111">
        {PANEL_TITLES[index]}
      </text>
    </g>
  );
}

export default function App() {
  return (
    <svg
      width={WIDTH}
      height={HEIGHT}
      viewBox={`0 0 ${WIDTH} ${HEIGHT}`}
      style={{ position: "absolute", left: 0, top: 0, background: "#fff", display: "block" }}
    >
      <rect x={0} y={0} width={WIDTH} height={HEIGHT} fill="#fff" />
      {/* legend */}
      {LABELS.map((label, i) => {
        const cx = LEGEND_COLS[Math.floor(i / 2)];
        const cy = LEGEND_ROWS[i % 2];
        return (
          <g key={label}>
            <rect x={cx} y={cy - 5} width={28} height={10} fill={COLORS[i]} />
            <text x={cx + 41} y={cy} dy="0.35em" fontSize={14} fontFamily={FONT} fill="#222">
              {label}
            </text>
          </g>
        );
      })}
      {PANEL_TITLES.map((_, i) => (
        <Panel key={i} index={i} />
      ))}
      {ROWS.map((r, i) => (
        <text
          key={`yl${i}`}
          transform={`translate(22, ${(r.top + r.bottom) / 2}) rotate(-90)`}
          textAnchor="middle"
          fontSize={16}
          fontFamily={FONT}
          fill="#222"
        >
          Power generation (GW)
        </text>
      ))}
      <text x={675} y={790} textAnchor="middle" fontSize={16} fontFamily={FONT} fill="#222">
        Time (h)
      </text>
    </svg>
  );
}
